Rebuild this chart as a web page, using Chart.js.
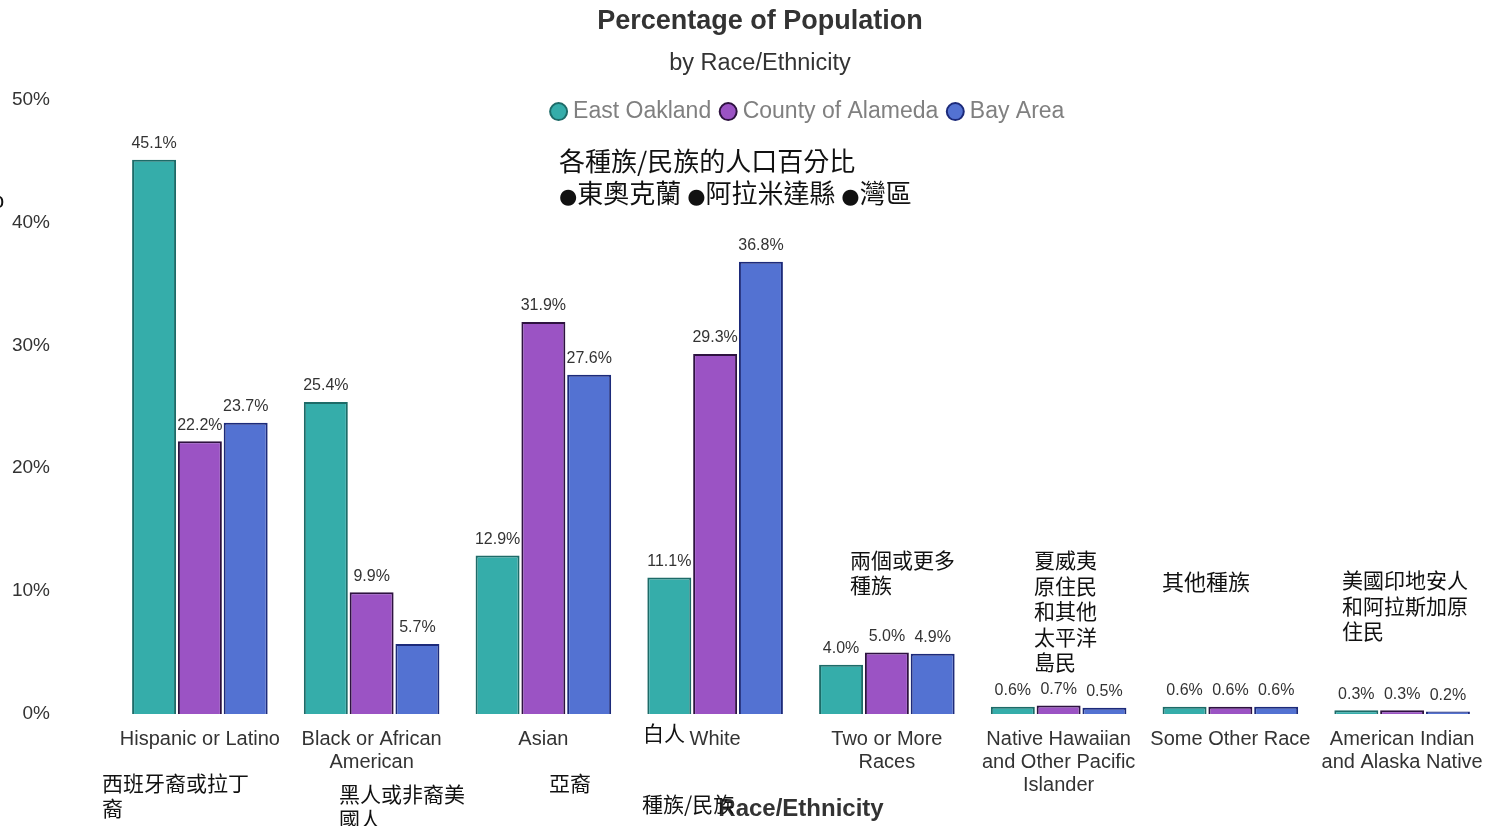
<!DOCTYPE html>
<html>
<head>
<meta charset="utf-8">
<script src="https://cdn.jsdelivr.net/npm/chart.js@4/dist/chart.umd.min.js"></script>
<style>
    body { margin: 0; background: #fff; }
    #wrap { position: relative; width: 1488px; height: 826px; overflow: hidden; }
    #chart { position: absolute; left: 0; top: 0; }
    .zh {
        position: absolute;
        font-family: "Noto Sans CJK TC", "Noto Sans CJK SC", sans-serif;
        font-size: 21px;
        line-height: 25px;
        color: #111;
        white-space: nowrap;
    }
    .dot { font-family: "DejaVu Sans", sans-serif; font-size: 21px; }
</style>
</head>
<body>
<div id="wrap">
    <canvas id="chart" width="1488" height="826"></canvas>
    <div class="zh" style="left:559px; top:144px; font-size:26px; line-height:32px;">各種族/民族的人口百分比<br><span class="dot">●</span>東奧克蘭 <span class="dot">●</span>阿拉米達縣 <span class="dot">●</span>灣區</div>
    <div class="zh" style="left:102px; top:770px;">西班牙裔或拉丁<br>裔</div>
    <div class="zh" style="left:339px; top:781px;">黑人或非裔美<br>國人</div>
    <div class="zh" style="left:549px; top:770px;">亞裔</div>
    <div class="zh" style="left:643px; top:720px;">白人</div>
    <div class="zh" style="left:642px; top:791px;">種族/民族</div>
    <div class="zh" style="left:850px; top:547px;">兩個或更多<br>種族</div>
    <div class="zh" style="left:1034px; top:547px; line-height:25.5px;">夏威夷<br>原住民<br>和其他<br>太平洋<br>島民</div>
    <div class="zh" style="left:1162px; top:568px; font-size:22px;">其他種族</div>
    <div class="zh" style="left:1342px; top:567px; line-height:25.5px;">美國印地安人<br>和阿拉斯加原<br>住民</div>
    <div class="zh" style="left:-8px; top:188px; font-family:'Liberation Sans', Arial, sans-serif; font-size:22px;">o</div>
</div>
<script>
// Race/ethnicity categories (multi-line tick labels)
const categories = [
    ["Hispanic or Latino"],
    ["Black or African", "American"],
    ["Asian"],
    ["White"],
    ["Two or More", "Races"],
    ["Native Hawaiian", "and Other Pacific", "Islander"],
    ["Some Other Race"],
    ["American Indian", "and Alaska Native"],
];

// Percent of population
const eastOakland = [45.1, 25.4, 12.9, 11.1, 4.0, 0.6, 0.6, 0.3];
const countyAlameda = [22.2, 9.9, 31.9, 29.3, 5.0, 0.7, 0.6, 0.3];
const bayArea = [23.7, 5.7, 27.6, 36.8, 4.9, 0.5, 0.6, 0.2];

const yTicks = [0, 10, 20, 30, 40, 50];

const FONT = "'Liberation Sans', Arial, sans-serif";
Chart.defaults.font.family = FONT;
Chart.defaults.color = "#333333";

// value labels above each bar
const barLabels = {
    id: "barLabels",
    afterDatasetsDraw(chart) {
        const { ctx } = chart;
        ctx.save();
        ctx.font = "16px " + FONT;
        ctx.fillStyle = "#333333";
        ctx.textAlign = "center";
        ctx.textBaseline = "middle";
        chart.data.datasets.forEach((ds, i) => {
            chart.getDatasetMeta(i).data.forEach((bar, j) => {
                ctx.fillText(ds.data[j].toFixed(1) + "%", bar.x, bar.y - 16);
            });
        });
        ctx.restore();
    },
};

// legend overlaps the top of the plot: reserve little room for it,
// then give it back its real height; shift title block and legend right
const headerTweak = {
    id: "headerTweak",
    beforeLayout(chart) {
        const lg = chart.legend;
        if (lg && !lg._short) {
            const fit = lg.fit.bind(lg);
            lg.fit = function () {
                fit();
                this._realHeight = this.height;
                this.height = 13.5;
            };
            lg._short = true;
        }
    },
    afterLayout(chart) {
        chart.boxes.forEach((box) => {
            if (box === chart.legend) {
                box.left += 66;
                box.right += 66;
                box.bottom = box.top + box._realHeight;
                box.height = box._realHeight;
            } else if (box.options && typeof box.options.text === "string") {
                box.left += 16;
                box.right += 16;
            }
        });
    },
};

new Chart(document.getElementById("chart"), {
    type: "bar",
    data: {
        labels: categories,
        datasets: [
            {
                label: "East Oakland",
                data: eastOakland,
                backgroundColor: "#35ADAA",
                borderColor: "#1D6B68",
            },
            {
                label: "County of Alameda",
                data: countyAlameda,
                backgroundColor: "#9B53C4",
                borderColor: "#2E1240",
            },
            {
                label: "Bay Area",
                data: bayArea,
                backgroundColor: "#5372D2",
                borderColor: "#1C2A7A",
            },
        ].map((d) => ({
            ...d,
            borderWidth: 2,
            categoryPercentage: 0.8,
            barPercentage: 0.96,
        })),
    },
    options: {
        responsive: false,
        animation: false,
        layout: { padding: { left: 0, right: 0, top: 0, bottom: 5 } },
        plugins: {
            title: {
                display: true,
                text: "Percentage of Population",
                color: "#333333",
                font: { size: 27, weight: "bold" },
                padding: { top: 5.8, bottom: 5.4 },
            },
            subtitle: {
                display: true,
                text: "by Race/Ethnicity",
                color: "#333333",
                font: { size: 23.5 },
                padding: { top: 5.6, bottom: 8.7 },
            },
            legend: {
                position: "top",
                align: "center",
                labels: {
                    usePointStyle: true,
                    pointStyle: "circle",
                    boxWidth: 6,
                    boxHeight: 12,
                    padding: 14,
                    color: "#808080",
                    font: { size: 23 },
                },
            },
            tooltip: { enabled: false },
        },
        scales: {
            x: {
                grid: { display: false, drawTicks: false },
                border: { display: false },
                ticks: {
                    autoSkip: false,
                    maxRotation: 0,
                    padding: 13.5,
                    color: "#333333",
                    font: { size: 20, lineHeight: 1.15 },
                },
                title: {
                    display: true,
                    text: "Race/Ethnicity",
                    color: "#333333",
                    font: { size: 24, weight: "bold", lineHeight: 1 },
                    padding: { top: 0, bottom: 0 },
                },
                afterFit(scale) {
                    scale.paddingLeft = 0;
                    scale.paddingRight = 0;
                    scale.height = 107;
                },
            },
            y: {
                min: yTicks[0],
                max: yTicks[yTicks.length - 1],
                grid: { display: false, drawTicks: false },
                border: { display: false },
                afterBuildTicks(scale) {
                    scale.ticks = yTicks.map((v) => ({ value: v }));
                },
                ticks: {
                    padding: 64,
                    color: "#333333",
                    font: { size: 19 },
                    callback: (v) => v + "%",
                },
                afterFit(scale) {
                    scale.width = 114;
                },
            },
        },
    },
    plugins: [barLabels, headerTweak],
});
</script>
</body>
</html>
